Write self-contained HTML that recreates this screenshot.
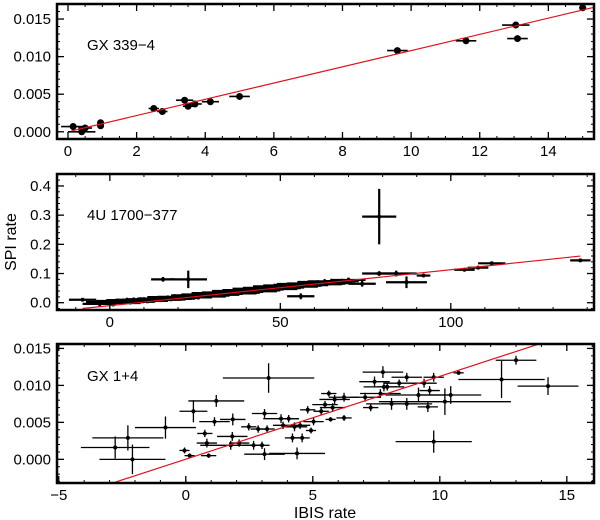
<!DOCTYPE html>
<html><head><meta charset="utf-8"><style>
html,body{margin:0;padding:0;background:#fff;}
svg{display:block;font-family:"Liberation Sans",Helvetica,sans-serif;}
</style></head><body>
<svg id="chart" width="600" height="520" viewBox="0 0 600 520"></svg>
<script>
// ---------- Panel 1: GX 339-4 ----------
const p1X  = [0.15,0.4,0.5,0.95,0.95,2.5,2.75,3.4,3.5,3.7,4.15,5.0,9.6,11.6,13.05,13.1,15.0];
const p1Y  = [0.0007,0.0,0.0005,0.0008,0.0012,0.0031,0.0027,0.0042,0.0034,0.0037,0.0040,0.0047,0.0108,0.0121,0.0142,0.0124,0.0165];
const p1XE = [0.35,0.4,0.2,0.1,0.1,0.15,0.15,0.25,0.15,0.2,0.25,0.3,0.3,0.3,0.4,0.3,0.1];
const p1YE = [0.0004,0.0004,0.0003,0.0003,0.0003,0.0002,0.0002,0.0002,0.0002,0.0002,0.0002,0.0002,0.0002,0.0002,0.0002,0.0002,0.0002];
const p1Fit = [0.0, 0.00108]; // intercept, slope
const p1XTicks = [0,2,4,6,8,10,12,14];
const p1YTicks = [0.000,0.005,0.010,0.015];

// ---------- Panel 2: 4U 1700-377 ----------
const p2X  = [-8,15.6,23,79,56,74,79,84,87,92,104,108,112,138,
  -3,-1,0,1,2,3,4,5,6,7,8,9,10,11,12,13,14,15,16,17,18,19,20,21,22,24,25,26,27,28,29,30,31,32,33,34,35,36,37,38,39,40,41,42,43,44,45,46,47,48,49,50,51,52,53,54,55,57,58,59,60,61,62,63,64,65,66,68,70];
const p2Y  = [0.010,0.080,0.080,0.295,0.022,0.065,0.100,0.100,0.070,0.093,0.113,0.120,0.135,0.145,
  -0.004,0.002,0.003,-0.001,0.006,0.002,0.004,0.009,0.003,0.008,0.006,0.010,0.009,0.006,0.012,0.010,0.014,0.011,0.013,0.017,0.014,0.019,0.016,0.020,0.018,0.022,0.025,0.021,0.027,0.024,0.028,0.031,0.027,0.033,0.030,0.035,0.032,0.038,0.034,0.040,0.037,0.043,0.039,0.046,0.042,0.048,0.045,0.051,0.047,0.054,0.050,0.056,0.052,0.059,0.055,0.061,0.058,0.064,0.060,0.066,0.063,0.069,0.065,0.071,0.067,0.073,0.070,0.074,0.078];
const p2XE = [4,3.5,5.5,5,4,4,5,6,6,2,3,3,4,3,
  5,6,7,8,6,7,8,6,7,8,6,7,8,6,7,8,6,7,8,6,7,8,6,7,8,6,7,8,6,7,8,6,7,8,6,7,8,6,7,8,6,7,8,6,7,8,6,7,8,6,7,8,6,7,8,6,7,8,6,7,8,6,7,8,6,7,5,5,5];
const p2YE = [0.004,0.008,0.030,0.095,0.010,0.010,0.008,0.010,0.020,0.005,0.006,0.006,0.006,0.005,
  0.010,0.008,0.009,0.012,0.008,0.009,0.010,0.008,0.009,0.010,0.008,0.009,0.010,0.008,0.009,0.010,0.008,0.009,0.010,0.008,0.009,0.010,0.008,0.009,0.010,0.008,0.009,0.010,0.008,0.009,0.010,0.008,0.009,0.010,0.008,0.009,0.010,0.008,0.009,0.010,0.008,0.009,0.010,0.008,0.009,0.010,0.008,0.009,0.010,0.008,0.009,0.010,0.008,0.009,0.010,0.008,0.009,0.010,0.008,0.009,0.010,0.008,0.009,0.010,0.008,0.009,0.008,0.008,0.008];
const p2Fit = [-0.01, 0.00123];
const p2XTicks = [0,50,100];
const p2YTicks = [0.0,0.1,0.2,0.3,0.4];

// ---------- Panel 3: GX 1+4 ----------
const p3X  = [-2.78,-2.28,-2.1,-0.8,-0.05,0.15,0.3,1.2,0.75,0.83,0.9,1.13,1.85,1.83,1.77,2.1,2.48,2.67,3.0,3.1,3.1,3.26,2.85,3.2,3.75,3.83,4.05,4.2,4.28,4.38,4.58,4.5,4.8,4.93,5.03,5.33,5.48,5.63,5.7,5.78,5.86,6.23,6.23,7.06,7.28,7.43,7.66,7.76,7.8,7.93,8.1,8.4,8.7,8.7,9.16,9.38,9.53,9.6,9.76,9.76,10.2,10.43,10.74,12.43,13.0,14.26];
const p3Y  = [0.0016,0.0029,0.0,0.0043,0.0012,0.0005,0.0065,0.0079,0.0035,0.0022,0.0005,0.0051,0.0054,0.0031,0.0019,0.0022,0.0044,0.0019,0.0019,0.0062,0.0007,0.0110,0.0041,0.0041,0.0055,0.0046,0.0055,0.0029,0.0044,0.0008,0.0029,0.0046,0.0067,0.0039,0.0051,0.0065,0.0074,0.0089,0.0054,0.0070,0.0081,0.0056,0.0084,0.0084,0.0070,0.0105,0.0089,0.0118,0.0098,0.0098,0.0075,0.0103,0.0111,0.0075,0.0087,0.0103,0.0071,0.0093,0.0024,0.0111,0.0078,0.0087,0.0117,0.0108,0.0134,0.0099];
const p3XE = [1.35,1.4,1.3,1.2,0.2,0.2,0.55,1.1,0.3,0.4,0.3,0.6,0.5,0.6,1.2,0.4,0.3,0.4,0.3,0.5,0.8,1.8,0.3,0.3,0.7,0.4,0.4,0.3,0.5,1.1,0.3,0.4,0.3,0.2,0.4,0.3,0.5,0.3,0.2,0.5,0.6,0.3,0.6,0.6,0.3,0.6,0.8,0.8,0.8,0.4,1.0,0.6,0.6,1.0,1.3,0.5,0.4,0.4,1.5,0.4,2.6,1.2,0.2,1.7,0.8,1.2];
const p3YE = [0.0015,0.0017,0.002,0.0015,0.0004,0.0003,0.0015,0.0008,0.0005,0.0006,0.0003,0.0006,0.0008,0.0006,0.0006,0.0005,0.0005,0.0006,0.0005,0.0006,0.0008,0.002,0.0005,0.0005,0.0006,0.0005,0.0005,0.0006,0.0006,0.0008,0.0006,0.0005,0.0005,0.0004,0.0005,0.0005,0.0005,0.0004,0.0003,0.0006,0.0006,0.0004,0.0006,0.0006,0.0005,0.0007,0.0006,0.0008,0.0006,0.0005,0.0008,0.0005,0.0006,0.0008,0.001,0.0006,0.0007,0.0006,0.0015,0.0006,0.0018,0.0012,0.0002,0.0025,0.0006,0.0012];
const p3Fit = [0.000024, 0.00112];
const p3XTicks = [-5,0,5,10,15];
const p3YTicks = [0.000,0.005,0.010,0.015];

const svg = document.getElementById('chart');
const NS = 'http://www.w3.org/2000/svg';
function mk(tag, attrs, parent){
  const e = document.createElementNS(NS, tag);
  for (const k in attrs) e.setAttribute(k, attrs[k]);
  (parent||svg).appendChild(e);
  return e;
}

function panel(cfg){
  const g = mk('g', {});
  
  
  const {L,R,T,B,xmin,xmax,ymin,ymax} = cfg;
  const sx = v => L + (v - xmin) / (xmax - xmin) * (R - L);
  const sy = v => B - (v - ymin) / (ymax - ymin) * (B - T);
  const clip = 'clip-' + cfg.name;
  const cp = mk('clipPath', {id: clip}, g);
  mk('rect', {x:L, y:T, width:R-L, height:B-T}, cp);
  const dg = mk('g', {'clip-path':'url(#'+clip+')'}, g);
  
  
  for (let i = 0; i < cfg.xs.length; i++){
    const x = cfg.xs[i], y = cfg.ys[i], xe = cfg.xe[i], ye = cfg.ye[i];
    const pt = mk('g', {}, dg);
    
    
    mk('line', {x1:sx(x-xe), x2:sx(x+xe), y1:sy(y), y2:sy(y), stroke:'#000', 'stroke-width':cfg.sw}, pt);
    mk('line', {x1:sx(x), x2:sx(x), y1:sy(y-ye), y2:sy(y+ye), stroke:'#000', 'stroke-width':cfg.sw}, pt);
    mk('circle', {cx:sx(x), cy:sy(y), r:cfg.r, fill:'#000'}, pt);
  }
  const fx1 = cfg.fitRange[0], fx2 = cfg.fitRange[1];
  const fit = mk('line', {x1:sx(fx1), y1:sy(cfg.fit[0]+cfg.fit[1]*fx1), x2:sx(fx2), y2:sy(cfg.fit[0]+cfg.fit[1]*fx2), stroke:'#e0101a', 'stroke-width':1.2}, dg);
  
  
  for (let v = Math.ceil(xmin/cfg.xminor)*cfg.xminor; v <= xmax; v += cfg.xminor){
    mk('line', {x1:sx(v), x2:sx(v), y1:B, y2:B-3, stroke:'#000', 'stroke-width':1}, g);
    mk('line', {x1:sx(v), x2:sx(v), y1:T, y2:T+3, stroke:'#000', 'stroke-width':1}, g);
  }
  for (let v = Math.ceil(ymin/cfg.yminor)*cfg.yminor; v <= ymax; v += cfg.yminor){
    mk('line', {x1:L, x2:L+3, y1:sy(v), y2:sy(v), stroke:'#000', 'stroke-width':1}, g);
    mk('line', {x1:R, x2:R-3, y1:sy(v), y2:sy(v), stroke:'#000', 'stroke-width':1}, g);
  }
  cfg.xt.forEach(v => {
    mk('line', {x1:sx(v), x2:sx(v), y1:B, y2:B-7, stroke:'#000', 'stroke-width':1.3}, g);
    mk('line', {x1:sx(v), x2:sx(v), y1:T, y2:T+7, stroke:'#000', 'stroke-width':1.3}, g);
    const t = mk('text', {x:sx(v), y:B+17, 'text-anchor':'middle', 'font-size':15, fill:'#000'}, g);
    
    
    t.textContent = v < 0 ? '\u2212' + (-v) : String(v);
  });
  cfg.yt.forEach(v => {
    mk('line', {x1:L, x2:L+7, y1:sy(v), y2:sy(v), stroke:'#000', 'stroke-width':1.3}, g);
    mk('line', {x1:R, x2:R-7, y1:sy(v), y2:sy(v), stroke:'#000', 'stroke-width':1.3}, g);
    const t = mk('text', {x:L-6, y:sy(v)+5, 'text-anchor':'end', 'font-size':15, fill:'#000'}, g);
    
    
    t.textContent = v.toFixed(cfg.ydec);
  });
  const fr = mk('rect', {x:L, y:T, width:R-L, height:B-T, fill:'none', stroke:'#000', 'stroke-width':2.5}, g);
  
  
  const lab = mk('text', {x:L+30, y:T+cfg.labY, 'font-size':15, fill:'#000'}, g);
  
  
  lab.textContent = cfg.label;
}

panel({name:'panel-gx339', L:57, R:594, T:4, B:139, xmin:-0.32, xmax:15.33, ymin:-0.00096, ymax:0.0170,
  xs:p1X, ys:p1Y, xe:p1XE, ye:p1YE, fit:p1Fit, fitRange:[0.1,15.3], xt:p1XTicks, yt:p1YTicks,
  xminor:0.5, yminor:0.001, ydec:3, label:'GX 339\u22124', labY:46, r:3.5, sw:1.6});
panel({name:'panel-4u1700', L:57, R:594, T:174, B:310, xmin:-15.5, xmax:142, ymin:-0.025, ymax:0.441,
  xs:p2X, ys:p2Y, xe:p2XE, ye:p2YE, fit:p2Fit, fitRange:[-8,138], xt:p2XTicks, yt:p2YTicks,
  xminor:10, yminor:0.02, ydec:1, label:'4U 1700\u2212377', labY:46, r:2, sw:2.2});
panel({name:'panel-gx1', L:57, R:594, T:344, B:483, xmin:-5.07, xmax:16.07, ymin:-0.0032, ymax:0.0156,
  xs:p3X, ys:p3Y, xe:p3XE, ye:p3YE, fit:p3Fit, fitRange:[-5,16.1], xt:p3XTicks, yt:p3YTicks,
  xminor:1, yminor:0.001, ydec:3, label:'GX 1+4', labY:37, r:2, sw:1.3});

const yl = mk('text', {x:0, y:0, transform:'translate(16,242) rotate(-90)', 'text-anchor':'middle', 'font-size':16, fill:'#000'});


yl.textContent = 'SPI rate';
const xl = mk('text', {x:325, y:518, 'text-anchor':'middle', 'font-size':16, fill:'#000'});


xl.textContent = 'IBIS rate';
</script>
</body></html>
